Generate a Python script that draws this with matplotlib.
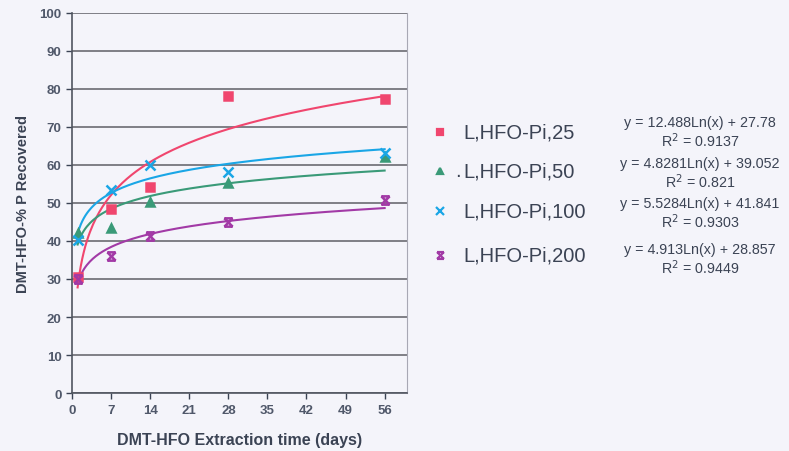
import numpy as np
import matplotlib
matplotlib.use("Agg")
from matplotlib import pyplot as plt
from matplotlib.path import Path

plt.rcParams['font.family'] = ['Liberation Sans', 'DejaVu Sans']

# extraction times (days) and % P recovered per loading
days = [1, 7, 14, 28, 56]
pi_25 = [30.5, 48.5, 54.2, 78.2, 77.3]
pi_50 = [42.0, 43.5, 50.2, 55.2, 62.0]
pi_100 = [40.2, 53.5, 60.0, 58.2, 63.0]
pi_200 = [30.0, 36.0, 41.2, 45.0, 50.7]

labels = ["L,HFO-Pi,25", "L,HFO-Pi,50", "L,HFO-Pi,100", "L,HFO-Pi,200"]
# log fit coefficients: y = a*ln(x) + b
fit_a = [12.488, 4.8281, 5.5284, 4.913]
fit_b = [27.78, 39.052, 41.841, 28.857]
r2 = ["0.9137", "0.821", "0.9303", "0.9449"]
xticks = [0, 7, 14, 21, 28, 35, 42, 49, 56]
yticks = [0, 10, 20, 30, 40, 50, 60, 70, 80, 90, 100]

BG = "#f4f4fa"
TXT = "#3b4354"
colors = ["#f0466e", "#3a9a78", "#1aa6e6", "#a23aa6"]

# X with caps on top and bottom
capped_x = Path(
    [(-1, -1), (1, 1), (-1, 1), (1, -1), (-1, 1), (1, 1), (-1, -1), (1, -1)],
    [Path.MOVETO, Path.LINETO, Path.MOVETO, Path.LINETO,
     Path.MOVETO, Path.LINETO, Path.MOVETO, Path.LINETO],
)
markers = ["s", "^", "x", capped_x]
msizes = [6, 6, 7, 6]

fig = plt.figure(figsize=(7.89, 4.52), dpi=100, facecolor=BG)
ax = fig.add_axes([0.0913, 0.128, 0.4245, 0.842])
ax.set_facecolor(BG)

series = [pi_25, pi_50, pi_100, pi_200]
xs = np.linspace(1, 56, 200)
for ys, c, m, ms, a, b in zip(series, colors, markers, msizes, fit_a, fit_b):
    ax.plot(xs, a * np.log(xs) + b, color=c, lw=1.5, zorder=3)
    ax.plot(days, ys, linestyle="none", marker=m, color=c, ms=ms,
            mew=1.8, zorder=4)

ax.set_xlim(0, 60)
ax.set_ylim(0, 100)
ax.set_xticks(xticks)
ax.set_yticks(yticks)
ax.yaxis.grid(True, color="#6a6a72", lw=1.2)
ax.set_axisbelow(True)
ax.tick_params(colors=TXT, labelsize=9.5, length=4, width=1, direction="out")
for lab in ax.get_xticklabels() + ax.get_yticklabels():
    lab.set_fontweight("bold")
    lab.set_color("#50586a")
for s in ["left", "bottom"]:
    ax.spines[s].set_color("#505560")
    ax.spines[s].set_linewidth(1.2)
ax.spines["top"].set_visible(False)
ax.spines["right"].set_color("#a8a8b4")

ax.set_xlabel("DMT-HFO Extraction time (days)", fontsize=11.5, fontweight="bold",
              color=TXT, labelpad=12)
ax.set_ylabel("DMT-HFO-% P Recovered", fontsize=10.5, fontweight="bold",
              color=TXT, labelpad=7)

leg_y = [133, 172, 212, 256]
eq_y = [123, 164, 204, 250]
for i in range(4):
    yf = 1 - leg_y[i] / 452
    fig.lines.append(plt.Line2D([440 / 789], [yf], transform=fig.transFigure,
                                marker=markers[i], color=colors[i], ms=msizes[i] - 1,
                                mew=1.6, linestyle="none"))
    fig.text(463 / 789, yf, labels[i], fontsize=14.5, color=TXT,
             va="center", ha="left")
    yq = 1 - eq_y[i] / 452
    fig.text(700 / 789, yq, "y = %sLn(x) + %s" % (fit_a[i], fit_b[i]),
             fontsize=10.3, color=TXT, va="center", ha="center")
    fig.text(700 / 789, yq - 18 / 452, "R$^2$ = %s" % r2[i],
             fontsize=10.3, color=TXT, va="center", ha="center")
# stray dot before the second legend entry
fig.text(455 / 789, 1 - 172 / 452, ".", fontsize=14.5, color=TXT,
         va="center", ha="left")

fig.savefig("out.png", dpi=100, facecolor=BG)
